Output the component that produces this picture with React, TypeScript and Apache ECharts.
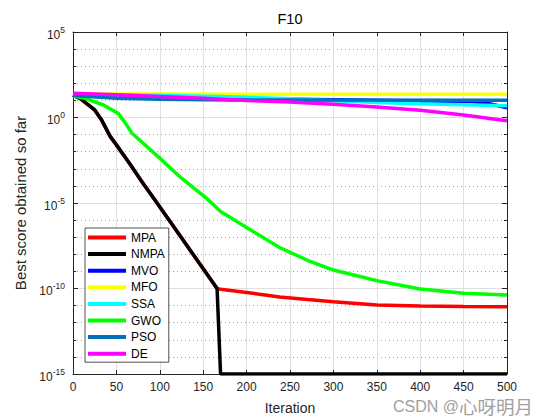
import React, { useEffect, useRef } from "react";
import * as echarts from "echarts";

const FONT = '"Liberation Sans", Arial, Helvetica, sans-serif';
const INK = "#262626";

const NAMES = ["MPA", "NMPA", "MVO", "MFO", "SSA", "GWO", "PSO", "DE"];
const COLORS = ["#FF0000", "#000000", "#0000FF", "#FFFF00", "#00FFFF", "#00FF00", "#0072BD", "#FF00FF"];

const X_TICKS = [0, 50, 100, 150, 200, 250, 300, 350, 400, 450, 500];
const Y_EXP_TICKS = [-15, -10, -5, 0, 5];

// [iteration, best score]
const MPA: [number, number][] = [
  [0, 2.0e1], [8, 1.32e1], [25, 2.75e0], [33, 7.08e-1], [43, 7.59e-2], [50, 2.51e-2],
  [66, 1.78e-3], [80, 1.58e-4], [94, 1.58e-5], [110, 1.12e-6], [130, 3.98e-8],
  [150, 1.41e-9], [166, 1.0e-10], [170, 8.91e-11], [207, 5.25e-11], [238, 3.16e-11],
  [270, 2.24e-11], [300, 1.7e-11], [350, 1.1e-11], [400, 9.55e-12], [450, 8.91e-12],
  [500, 8.71e-12],
];
const NMPA: [number, number][] = [
  [0, 2.0e1], [8, 1.32e1], [25, 2.75e0], [33, 7.08e-1], [43, 7.59e-2], [50, 2.51e-2],
  [66, 1.78e-3], [80, 1.58e-4], [94, 1.58e-5], [110, 1.12e-6], [130, 3.98e-8],
  [150, 1.41e-9], [166, 1.0e-10], [170, 1e-15], [500, 1e-15],
];
const MVO: [number, number][] = [
  [0, 20.9], [100, 15.8], [200, 12.6], [300, 11.0], [400, 9.33], [460, 8.51], [480, 6.31], [500, 3.72],
];
const MFO: [number, number][] = [
  [0, 24.0], [100, 23.4], [500, 22.9],
];
const SSA: [number, number][] = [
  [0, 22.4], [100, 20.0], [180, 16.6], [250, 12.6], [300, 9.55], [350, 7.59], [400, 6.31], [450, 5.5], [500, 4.9],
];
const GWO: [number, number][] = [
  [0, 17.8], [14, 13.2], [35, 5.37], [52, 1.74], [60, 0.501], [68, 0.12], [98, 5.13e-3],
  [125, 2.82e-4], [154, 1.86e-5], [170, 3.16e-6], [208, 2.09e-7], [238, 2.51e-8],
  [270, 4.47e-9], [300, 1.2e-9], [350, 2.88e-10], [400, 9.33e-11], [450, 5.25e-11], [500, 4.17e-11],
];
const PSO: [number, number][] = [
  [0, 19.1], [50, 13.2], [100, 11.5], [180, 10.5], [500, 10.2],
];
const DE: [number, number][] = [
  [0, 26.3], [50, 21.4], [100, 17.0], [150, 13.2], [200, 10.0], [250, 7.94], [300, 6.03],
  [350, 4.17], [400, 2.69], [450, 1.41], [500, 0.646],
];

const SERIES_DATA = [MPA, NMPA, MVO, MFO, SSA, GWO, PSO, DE];

const toLog = (pts: [number, number][]) => pts.map(([x, v]) => [x, Math.log10(v)]);

export default function App() {
  const ref = useRef<HTMLDivElement>(null);
  useEffect(() => {
    document.body.style.margin = "0";
    const chart = echarts.init(ref.current!, null, { renderer: "svg" });
    const yBase = {
      type: "value" as const,
      min: Y_EXP_TICKS[0],
      max: Y_EXP_TICKS[Y_EXP_TICKS.length - 1],
      interval: 5,
      axisLine: { show: true, onZero: false, lineStyle: { color: INK, width: 1 } },
      axisTick: { show: true, inside: true, length: 5, lineStyle: { color: INK } },
      minorTick: { show: true, splitNumber: 5, length: 3, lineStyle: { color: INK } },
    };
    const xBase = {
      type: "value" as const,
      min: X_TICKS[0],
      max: X_TICKS[X_TICKS.length - 1],
      interval: 50,
      axisLine: { show: true, onZero: false, lineStyle: { color: INK, width: 1 } },
      axisTick: { show: true, inside: true, length: 4, lineStyle: { color: INK } },
    };
    chart.setOption({
      animation: false,
      backgroundColor: "#ffffff",
      title: {
        text: "F10",
        left: 290,
        top: 11,
        textAlign: "center",
        padding: 0,
        textStyle: { fontSize: 14.5, fontWeight: "normal", color: "#000", fontFamily: FONT },
      },
      grid: { left: 73, right: 53, top: 32, bottom: 46, containLabel: false },
      legend: {
        data: NAMES,
        orient: "vertical",
        left: 85,
        top: 228,
        icon: "rect",
        itemWidth: 38,
        itemHeight: 4,
        itemGap: 3.6,
        padding: [3, 4, 2, 3],
        backgroundColor: "#ffffff",
        borderColor: INK,
        borderWidth: 0.8,
        selectedMode: false,
        z: 10,
        textStyle: { fontSize: 12, lineHeight: 13, color: "#000", fontFamily: FONT },
      },
      xAxis: [
        {
          ...xBase,
          position: "bottom",
          name: "Iteration",
          nameLocation: "middle",
          nameGap: 27,
          nameTextStyle: { fontSize: 14, color: INK, fontFamily: FONT },
          axisLabel: { show: true, margin: 7, fontSize: 12, lineHeight: 12, color: INK, fontFamily: FONT },
          splitLine: { show: true, lineStyle: { color: "#dfdfdf", width: 1, type: "solid" } },
        },
        {
          ...xBase,
          position: "top",
          axisLabel: { show: false },
          splitLine: { show: false },
        },
      ],
      yAxis: [
        {
          ...yBase,
          position: "left",
          name: "Best score obtained so far",
          nameLocation: "middle",
          nameGap: 42,
          nameTextStyle: { fontSize: 15, color: INK, fontFamily: FONT },
          axisLabel: {
            show: true,
            margin: 8,
            formatter: (v: number) => `{b|10}{s|${v}}`,
            rich: {
              b: { fontSize: 12, color: INK, fontFamily: FONT, padding: [5, 0, 0, 0] },
              s: { fontSize: 8.5, color: INK, fontFamily: FONT, padding: [0, 0, 5, 0] },
            },
          },
          splitLine: { show: true, lineStyle: { color: "#dfdfdf", width: 1, type: "solid" } },
          minorSplitLine: { show: true, lineStyle: { color: "#a0a0a0", width: 1, type: [1, 3] } },
        },
        {
          ...yBase,
          position: "right",
          axisLabel: { show: false },
          splitLine: { show: false },
          minorSplitLine: { show: false },
        },
      ],
      series: NAMES.map((name, i) => ({
        name,
        type: "line",
        xAxisIndex: 0,
        yAxisIndex: 0,
        data: toLog(SERIES_DATA[i]),
        symbol: "none",
        smooth: false,
        clip: true,
        lineStyle: { color: COLORS[i], width: 3.5 },
        itemStyle: { color: COLORS[i] },
        emphasis: { disabled: true },
      })),
      graphic: [
        {
          type: "text",
          left: 393,
          top: 397,
          z: 100,
          style: {
            text: "{a|CSDN @}{c|心呀明月}",
            rich: {
              a: { fontSize: 16, lineHeight: 18, fill: "#a0a0a0", fontFamily: FONT },
              c: { fontSize: 18.5, lineHeight: 18, fill: "#a0a0a0", fontFamily: '"Noto Sans CJK SC", sans-serif' },
            },
          },
        },
      ],
    });
    return () => chart.dispose();
  }, []);
  return <div ref={ref} style={{ width: 560, height: 420 }} />;
}
